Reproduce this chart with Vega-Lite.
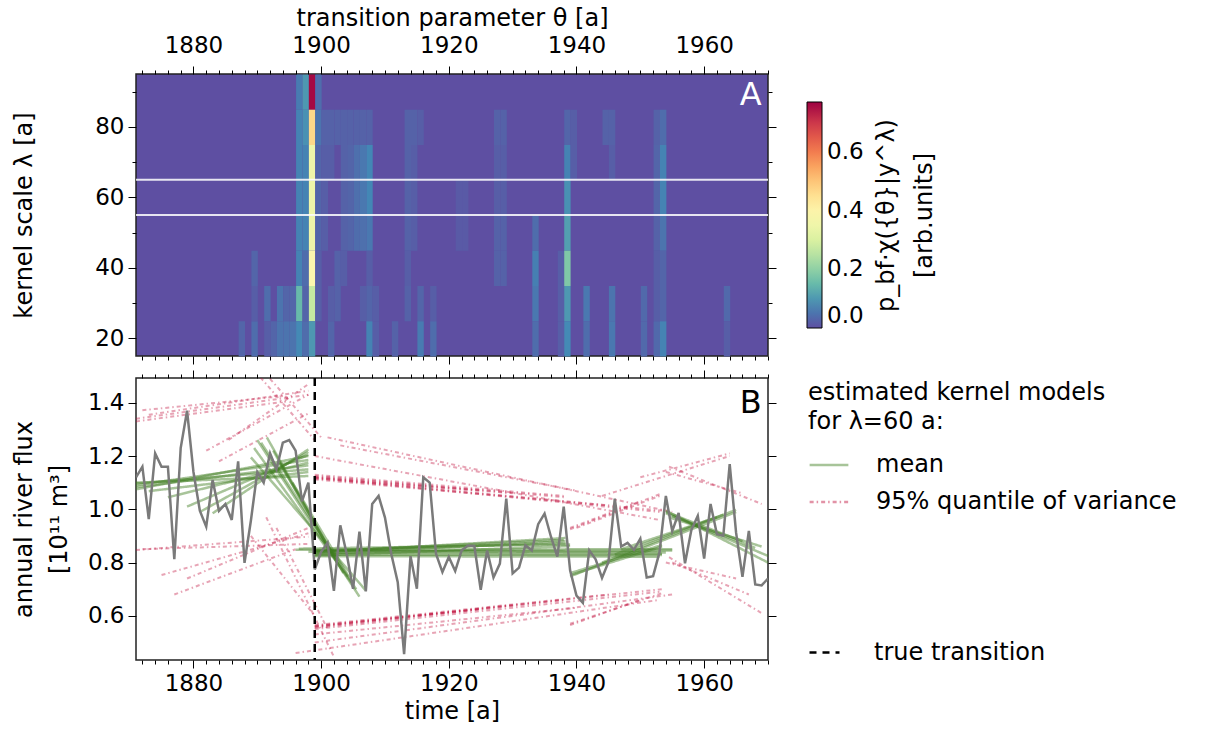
{
  "$schema": "https://vega.github.io/schema/vega-lite/v6.json",
  "background": "white",
  "padding": {"left": 11, "top": 5, "right": 5, "bottom": 2},
  "spacing": 2,
  "config": {
    "font": "DejaVu Sans",
    "view": {"stroke": "#222222", "strokeWidth": 1.5},
    "axis": {"labelFont": "DejaVu Sans", "labelFontSize": 23, "labelColor": "black", "titleFont": "DejaVu Sans", "titleFontSize": 24, "titleFontWeight": "normal", "titleColor": "black", "tickColor": "black", "tickWidth": 1, "domain": false, "grid": false, "labelPadding": 4},
    "legend": {"labelFont": "DejaVu Sans", "labelFontSize": 24, "labelColor": "black", "titleFont": "DejaVu Sans", "titleFontSize": 24, "titleFontWeight": "normal", "titleColor": "black", "labelLimit": 600, "titleLimit": 600}
  },
  "resolve": {"scale": {"color": "independent", "strokeDash": "independent", "strokeWidth": "independent"}, "legend": {"color": "independent", "strokeDash": "independent", "strokeWidth": "independent"}},
  "vconcat": [
    {
      "width": 632,
      "height": 282,
      "view": {"fill": "#5e4fa2", "stroke": "#222222", "strokeWidth": 1.5},
      "resolve": {"axis": {"x": "independent", "y": "independent"}},
      "layer": [
        {
          "data": {"values": [
            {"t": 1887, "l": 20, "p": 0.03},
            {"t": 1889, "l": 20, "p": 0.04}, {"t": 1889, "l": 30, "p": 0.02}, {"t": 1889, "l": 40, "p": 0.03},
            {"t": 1891, "l": 30, "p": 0.04}, {"t": 1891, "l": 20, "p": 0.02},
            {"t": 1892, "l": 20, "p": 0.03},
            {"t": 1893, "l": 30, "p": 0.05}, {"t": 1893, "l": 20, "p": 0.05},
            {"t": 1894, "l": 30, "p": 0.03}, {"t": 1894, "l": 20, "p": 0.05},
            {"t": 1895, "l": 30, "p": 0.03}, {"t": 1895, "l": 20, "p": 0.05},
            {"t": 1896, "l": 90, "p": 0.06}, {"t": 1896, "l": 80, "p": 0.07}, {"t": 1896, "l": 70, "p": 0.07}, {"t": 1896, "l": 60, "p": 0.07}, {"t": 1896, "l": 50, "p": 0.07}, {"t": 1896, "l": 40, "p": 0.07}, {"t": 1896, "l": 30, "p": 0.15}, {"t": 1896, "l": 20, "p": 0.08},
            {"t": 1897, "l": 90, "p": 0.1}, {"t": 1897, "l": 80, "p": 0.09}, {"t": 1897, "l": 70, "p": 0.07}, {"t": 1897, "l": 60, "p": 0.07}, {"t": 1897, "l": 50, "p": 0.07}, {"t": 1897, "l": 40, "p": 0.04}, {"t": 1897, "l": 30, "p": 0.03}, {"t": 1897, "l": 20, "p": 0.04},
            {"t": 1898, "l": 90, "p": 0.76}, {"t": 1898, "l": 80, "p": 0.47}, {"t": 1898, "l": 70, "p": 0.35}, {"t": 1898, "l": 60, "p": 0.35}, {"t": 1898, "l": 50, "p": 0.35}, {"t": 1898, "l": 40, "p": 0.39}, {"t": 1898, "l": 30, "p": 0.27}, {"t": 1898, "l": 20, "p": 0.1},
            {"t": 1899, "l": 90, "p": 0.04}, {"t": 1899, "l": 80, "p": 0.05}, {"t": 1899, "l": 70, "p": 0.03}, {"t": 1899, "l": 60, "p": 0.03}, {"t": 1899, "l": 50, "p": 0.03}, {"t": 1899, "l": 40, "p": 0.02}, {"t": 1899, "l": 30, "p": 0.02},
            {"t": 1900, "l": 80, "p": 0.025}, {"t": 1900, "l": 70, "p": 0.02}, {"t": 1900, "l": 60, "p": 0.02}, {"t": 1900, "l": 50, "p": 0.02},
            {"t": 1901, "l": 80, "p": 0.025}, {"t": 1901, "l": 70, "p": 0.02}, {"t": 1901, "l": 30, "p": 0.02}, {"t": 1901, "l": 20, "p": 0.03},
            {"t": 1902, "l": 80, "p": 0.025}, {"t": 1902, "l": 40, "p": 0.025}, {"t": 1902, "l": 30, "p": 0.025},
            {"t": 1903, "l": 80, "p": 0.025}, {"t": 1903, "l": 70, "p": 0.025}, {"t": 1903, "l": 60, "p": 0.025}, {"t": 1903, "l": 50, "p": 0.025}, {"t": 1903, "l": 40, "p": 0.02},
            {"t": 1904, "l": 80, "p": 0.025}, {"t": 1904, "l": 70, "p": 0.03}, {"t": 1904, "l": 60, "p": 0.03}, {"t": 1904, "l": 50, "p": 0.03},
            {"t": 1905, "l": 80, "p": 0.025}, {"t": 1905, "l": 70, "p": 0.045}, {"t": 1905, "l": 60, "p": 0.045}, {"t": 1905, "l": 50, "p": 0.04},
            {"t": 1906, "l": 80, "p": 0.025}, {"t": 1906, "l": 70, "p": 0.055}, {"t": 1906, "l": 60, "p": 0.055}, {"t": 1906, "l": 50, "p": 0.045}, {"t": 1906, "l": 30, "p": 0.02},
            {"t": 1907, "l": 80, "p": 0.025}, {"t": 1907, "l": 70, "p": 0.075}, {"t": 1907, "l": 60, "p": 0.075}, {"t": 1907, "l": 50, "p": 0.055}, {"t": 1907, "l": 40, "p": 0.02}, {"t": 1907, "l": 30, "p": 0.03}, {"t": 1907, "l": 20, "p": 0.07},
            {"t": 1908, "l": 30, "p": 0.02}, {"t": 1908, "l": 20, "p": 0.02},
            {"t": 1911, "l": 20, "p": 0.025},
            {"t": 1913, "l": 80, "p": 0.025}, {"t": 1913, "l": 70, "p": 0.025}, {"t": 1913, "l": 60, "p": 0.025}, {"t": 1913, "l": 50, "p": 0.025}, {"t": 1913, "l": 40, "p": 0.02}, {"t": 1913, "l": 30, "p": 0.025},
            {"t": 1914, "l": 80, "p": 0.025}, {"t": 1914, "l": 70, "p": 0.02}, {"t": 1914, "l": 60, "p": 0.02}, {"t": 1914, "l": 50, "p": 0.02},
            {"t": 1915, "l": 80, "p": 0.02}, {"t": 1915, "l": 30, "p": 0.03}, {"t": 1915, "l": 20, "p": 0.06},
            {"t": 1917, "l": 30, "p": 0.02}, {"t": 1917, "l": 20, "p": 0.04},
            {"t": 1921, "l": 60, "p": 0.015}, {"t": 1921, "l": 50, "p": 0.015},
            {"t": 1922, "l": 60, "p": 0.015}, {"t": 1922, "l": 50, "p": 0.015},
            {"t": 1927, "l": 80, "p": 0.025}, {"t": 1927, "l": 70, "p": 0.02}, {"t": 1927, "l": 60, "p": 0.02}, {"t": 1927, "l": 50, "p": 0.025}, {"t": 1927, "l": 40, "p": 0.025},
            {"t": 1928, "l": 80, "p": 0.025}, {"t": 1928, "l": 70, "p": 0.02}, {"t": 1928, "l": 60, "p": 0.02}, {"t": 1928, "l": 50, "p": 0.025}, {"t": 1928, "l": 40, "p": 0.025},
            {"t": 1933, "l": 50, "p": 0.04}, {"t": 1933, "l": 40, "p": 0.065}, {"t": 1933, "l": 30, "p": 0.055}, {"t": 1933, "l": 20, "p": 0.04},
            {"t": 1937, "l": 40, "p": 0.02}, {"t": 1937, "l": 30, "p": 0.02}, {"t": 1937, "l": 20, "p": 0.02},
            {"t": 1938, "l": 80, "p": 0.03}, {"t": 1938, "l": 70, "p": 0.07}, {"t": 1938, "l": 60, "p": 0.09}, {"t": 1938, "l": 50, "p": 0.11}, {"t": 1938, "l": 40, "p": 0.18}, {"t": 1938, "l": 30, "p": 0.1}, {"t": 1938, "l": 20, "p": 0.08},
            {"t": 1939, "l": 80, "p": 0.02}, {"t": 1939, "l": 70, "p": 0.02},
            {"t": 1941, "l": 30, "p": 0.055}, {"t": 1941, "l": 20, "p": 0.04},
            {"t": 1944, "l": 80, "p": 0.025},
            {"t": 1945, "l": 80, "p": 0.025}, {"t": 1945, "l": 70, "p": 0.02}, {"t": 1945, "l": 30, "p": 0.05}, {"t": 1945, "l": 20, "p": 0.055},
            {"t": 1950, "l": 30, "p": 0.035}, {"t": 1950, "l": 20, "p": 0.035},
            {"t": 1952, "l": 80, "p": 0.025}, {"t": 1952, "l": 70, "p": 0.03}, {"t": 1952, "l": 60, "p": 0.03}, {"t": 1952, "l": 50, "p": 0.025}, {"t": 1952, "l": 40, "p": 0.02}, {"t": 1952, "l": 30, "p": 0.02}, {"t": 1952, "l": 20, "p": 0.035},
            {"t": 1953, "l": 80, "p": 0.04}, {"t": 1953, "l": 70, "p": 0.07}, {"t": 1953, "l": 60, "p": 0.07}, {"t": 1953, "l": 50, "p": 0.05}, {"t": 1953, "l": 40, "p": 0.03}, {"t": 1953, "l": 30, "p": 0.03}, {"t": 1953, "l": 20, "p": 0.07},
            {"t": 1963, "l": 30, "p": 0.035}, {"t": 1963, "l": 20, "p": 0.02}
          ]},
          "mark": {"type": "rect", "binSpacing": 0},
          "encoding": {
            "x": {"field": "t", "type": "quantitative", "bin": {"step": 1, "extent": [1871, 1970], "nice": false},
                  "scale": {"domain": [1871, 1970], "nice": false, "zero": false},
                  "axis": {"orient": "top", "values": [1872,1874,1876,1878,1880,1882,1884,1886,1888,1890,1892,1894,1896,1898,1900,1902,1904,1906,1908,1910,1912,1914,1916,1918,1920,1922,1924,1926,1928,1930,1932,1934,1936,1938,1940,1942,1944,1946,1948,1950,1952,1954,1956,1958,1960,1962,1964,1966,1968,1970],
                           "labelExpr": "datum.value % 20 === 0 ? format(datum.value, 'd') : ''",
                           "tickSize": {"condition": {"test": "datum.value % 20 === 0", "value": 8}, "value": 4},
                           "labelFlush": false, "labelOverlap": false, "labelPadding": 8.5,
                           "title": "transition parameter θ [a]", "titleY": -49, "titleBaseline": "alphabetic"}},
            "y": {"field": "l", "type": "quantitative", "bin": {"step": 10, "extent": [15, 95], "nice": false},
                  "scale": {"domain": [15, 95], "nice": false, "zero": false},
                  "axis": {"orient": "left", "values": [20, 30, 40, 50, 60, 70, 80, 90],
                           "labelExpr": "datum.value % 20 === 0 ? format(datum.value, 'd') : ''",
                           "tickSize": {"condition": {"test": "datum.value % 20 === 0", "value": 8}, "value": 4},
                           "labelFlush": false, "labelOverlap": false,
                           "title": "kernel scale λ [a]", "titleAngle": 270, "titleX": -124, "titleY": 141, "titleAlign": "center", "titleBaseline": "top"}},
            "color": {"field": "p", "type": "quantitative",
                      "scale": {"scheme": "spectral", "reverse": true, "domain": [0, 0.77]},
                      "legend": {"orient": "none", "legendX": 671, "legendY": 28, "direction": "vertical", "gradientLength": 226, "gradientThickness": 15, "values": [0, 0.2, 0.4, 0.6], "format": ".1f", "title": null, "labelFontSize": 23, "labelOffset": 5, "gradientStrokeColor": "black", "gradientStrokeWidth": 1}}
          }
        },
        {
          "data": {"values": [{"l": 55, "t0": 1871, "t1": 1970}, {"l": 65, "t0": 1871, "t1": 1970}]},
          "mark": {"type": "rule", "color": "white", "strokeWidth": 2, "opacity": 0.85},
          "encoding": {
            "x": {"field": "t0", "type": "quantitative",
                  "axis": {"orient": "bottom", "values": [1872,1874,1876,1878,1880,1882,1884,1886,1888,1890,1892,1894,1896,1898,1900,1902,1904,1906,1908,1910,1912,1914,1916,1918,1920,1922,1924,1926,1928,1930,1932,1934,1936,1938,1940,1942,1944,1946,1948,1950,1952,1954,1956,1958,1960,1962,1964,1966,1968,1970],
                           "labels": false, "title": null,
                           "tickSize": {"condition": {"test": "datum.value % 20 === 0", "value": 8}, "value": 4}}},
            "x2": {"field": "t1"},
            "y": {"field": "l", "type": "quantitative",
                  "axis": {"orient": "right", "values": [20, 30, 40, 50, 60, 70, 80, 90], "labels": false,
                           "tickSize": {"condition": {"test": "datum.value % 20 === 0", "value": 8}, "value": 4},
                           "title": ["p_bf·χ({θ}|y^λ)", "[arb.units]"], "titleAngle": 270, "titleX": 106, "titleY": 141, "titleAlign": "center", "titleBaseline": "top", "titleLineHeight": 38}}
          }
        },
        {
          "data": {"values": [{"lab": "A", "t": 1969, "l": 89}]},
          "mark": {"type": "text", "align": "right", "baseline": "middle", "fontSize": 32, "color": "white", "font": "DejaVu Sans"},
          "encoding": {
            "x": {"field": "t", "type": "quantitative", "axis": null},
            "y": {"field": "l", "type": "quantitative", "axis": null},
            "text": {"field": "lab"}
          }
        }
      ]
    },
    {
      "width": 632,
      "height": 282,
      "resolve": {"axis": {"x": "independent", "y": "independent"}},
      "layer": [
        {
          "data": {"values": [
            {"g": "R1", "kind": "95% quantile of variance", "t": 1871, "v": 1.34}, {"g": "R1", "kind": "95% quantile of variance", "t": 1898, "v": 1.43},
            {"g": "R2", "kind": "95% quantile of variance", "t": 1871, "v": 1.33}, {"g": "R2", "kind": "95% quantile of variance", "t": 1894.5, "v": 1.405},
            {"g": "R3", "kind": "95% quantile of variance", "t": 1872, "v": 1.372}, {"g": "R3", "kind": "95% quantile of variance", "t": 1894, "v": 1.425},
            {"g": "R4", "kind": "95% quantile of variance", "t": 1873, "v": 1.355}, {"g": "R4", "kind": "95% quantile of variance", "t": 1898, "v": 1.445},
            {"g": "R5", "kind": "95% quantile of variance", "t": 1890.5, "v": 1.495}, {"g": "R5", "kind": "95% quantile of variance", "t": 1899, "v": 1.26},
            {"g": "R6", "kind": "95% quantile of variance", "t": 1892, "v": 1.49}, {"g": "R6", "kind": "95% quantile of variance", "t": 1900, "v": 1.27},
            {"g": "R7", "kind": "95% quantile of variance", "t": 1885.5, "v": 1.26}, {"g": "R7", "kind": "95% quantile of variance", "t": 1898, "v": 1.47},
            {"g": "R8", "kind": "95% quantile of variance", "t": 1882, "v": 1.22}, {"g": "R8", "kind": "95% quantile of variance", "t": 1898, "v": 1.43},
            {"g": "R9", "kind": "95% quantile of variance", "t": 1884, "v": 1.18}, {"g": "R9", "kind": "95% quantile of variance", "t": 1898, "v": 1.36},
            {"g": "R10", "kind": "95% quantile of variance", "t": 1871, "v": 0.847}, {"g": "R10", "kind": "95% quantile of variance", "t": 1898, "v": 0.897},
            {"g": "R11", "kind": "95% quantile of variance", "t": 1875, "v": 0.753}, {"g": "R11", "kind": "95% quantile of variance", "t": 1898, "v": 0.91},
            {"g": "R12", "kind": "95% quantile of variance", "t": 1877, "v": 0.68}, {"g": "R12", "kind": "95% quantile of variance", "t": 1896, "v": 0.85},
            {"g": "R13", "kind": "95% quantile of variance", "t": 1872, "v": 0.85}, {"g": "R13", "kind": "95% quantile of variance", "t": 1898, "v": 0.87},
            {"g": "R14", "kind": "95% quantile of variance", "t": 1879, "v": 0.74}, {"g": "R14", "kind": "95% quantile of variance", "t": 1898, "v": 0.93},
            {"g": "R15", "kind": "95% quantile of variance", "t": 1891.4, "v": 0.97}, {"g": "R15", "kind": "95% quantile of variance", "t": 1902, "v": 0.446},
            {"g": "R16", "kind": "95% quantile of variance", "t": 1893, "v": 0.93}, {"g": "R16", "kind": "95% quantile of variance", "t": 1901, "v": 0.55},
            {"g": "R17", "kind": "95% quantile of variance", "t": 1889, "v": 0.9}, {"g": "R17", "kind": "95% quantile of variance", "t": 1899, "v": 0.6},
            {"g": "R18", "kind": "95% quantile of variance", "t": 1899, "v": 1.12}, {"g": "R18", "kind": "95% quantile of variance", "t": 1953.4, "v": 0.995},
            {"g": "R19", "kind": "95% quantile of variance", "t": 1899, "v": 1.125}, {"g": "R19", "kind": "95% quantile of variance", "t": 1938.3, "v": 1.045},
            {"g": "R20", "kind": "95% quantile of variance", "t": 1899, "v": 1.112}, {"g": "R20", "kind": "95% quantile of variance", "t": 1945, "v": 1.015},
            {"g": "R21", "kind": "95% quantile of variance", "t": 1899, "v": 1.118}, {"g": "R21", "kind": "95% quantile of variance", "t": 1953, "v": 0.99},
            {"g": "R22", "kind": "95% quantile of variance", "t": 1899, "v": 1.13}, {"g": "R22", "kind": "95% quantile of variance", "t": 1938, "v": 1.05},
            {"g": "R23", "kind": "95% quantile of variance", "t": 1901, "v": 1.27}, {"g": "R23", "kind": "95% quantile of variance", "t": 1955, "v": 0.99},
            {"g": "R24", "kind": "95% quantile of variance", "t": 1899, "v": 1.2}, {"g": "R24", "kind": "95% quantile of variance", "t": 1953, "v": 0.96},
            {"g": "R25", "kind": "95% quantile of variance", "t": 1903, "v": 1.24}, {"g": "R25", "kind": "95% quantile of variance", "t": 1940, "v": 1.07},
            {"g": "R26", "kind": "95% quantile of variance", "t": 1899, "v": 0.56}, {"g": "R26", "kind": "95% quantile of variance", "t": 1953.4, "v": 0.7},
            {"g": "R27", "kind": "95% quantile of variance", "t": 1899, "v": 0.555}, {"g": "R27", "kind": "95% quantile of variance", "t": 1938.3, "v": 0.66},
            {"g": "R28", "kind": "95% quantile of variance", "t": 1899, "v": 0.565}, {"g": "R28", "kind": "95% quantile of variance", "t": 1945, "v": 0.68},
            {"g": "R29", "kind": "95% quantile of variance", "t": 1899, "v": 0.55}, {"g": "R29", "kind": "95% quantile of variance", "t": 1953, "v": 0.69},
            {"g": "R30", "kind": "95% quantile of variance", "t": 1896, "v": 0.46}, {"g": "R30", "kind": "95% quantile of variance", "t": 1953, "v": 0.66},
            {"g": "R31", "kind": "95% quantile of variance", "t": 1899, "v": 0.5}, {"g": "R31", "kind": "95% quantile of variance", "t": 1955, "v": 0.68},
            {"g": "R32", "kind": "95% quantile of variance", "t": 1899, "v": 0.53}, {"g": "R32", "kind": "95% quantile of variance", "t": 1940, "v": 0.63},
            {"g": "R33", "kind": "95% quantile of variance", "t": 1939, "v": 0.925}, {"g": "R33", "kind": "95% quantile of variance", "t": 1953.4, "v": 1.06},
            {"g": "R34", "kind": "95% quantile of variance", "t": 1939, "v": 0.57}, {"g": "R34", "kind": "95% quantile of variance", "t": 1953.4, "v": 0.685},
            {"g": "R35", "kind": "95% quantile of variance", "t": 1940, "v": 0.93}, {"g": "R35", "kind": "95% quantile of variance", "t": 1953, "v": 1.05},
            {"g": "R36", "kind": "95% quantile of variance", "t": 1954.5, "v": 1.16}, {"g": "R36", "kind": "95% quantile of variance", "t": 1969, "v": 1.02},
            {"g": "R37", "kind": "95% quantile of variance", "t": 1954.5, "v": 0.82}, {"g": "R37", "kind": "95% quantile of variance", "t": 1969, "v": 0.61},
            {"g": "R38", "kind": "95% quantile of variance", "t": 1954, "v": 1.14}, {"g": "R38", "kind": "95% quantile of variance", "t": 1966, "v": 1.06},
            {"g": "R39", "kind": "95% quantile of variance", "t": 1955, "v": 0.8}, {"g": "R39", "kind": "95% quantile of variance", "t": 1967, "v": 0.68},
            {"g": "R40", "kind": "95% quantile of variance", "t": 1944, "v": 1.05}, {"g": "R40", "kind": "95% quantile of variance", "t": 1964, "v": 1.2},
            {"g": "R41", "kind": "95% quantile of variance", "t": 1950, "v": 1.12}, {"g": "R41", "kind": "95% quantile of variance", "t": 1964, "v": 1.21},
            {"g": "R42", "kind": "95% quantile of variance", "t": 1954, "v": 0.8}, {"g": "R42", "kind": "95% quantile of variance", "t": 1965, "v": 0.74},
            {"g": "R43", "kind": "95% quantile of variance", "t": 1899, "v": 1.122}, {"g": "R43", "kind": "95% quantile of variance", "t": 1930, "v": 1.06},
            {"g": "R44", "kind": "95% quantile of variance", "t": 1899, "v": 1.116}, {"g": "R44", "kind": "95% quantile of variance", "t": 1925, "v": 1.07},
            {"g": "R45", "kind": "95% quantile of variance", "t": 1899, "v": 0.558}, {"g": "R45", "kind": "95% quantile of variance", "t": 1930, "v": 0.64},
            {"g": "R46", "kind": "95% quantile of variance", "t": 1899, "v": 0.562}, {"g": "R46", "kind": "95% quantile of variance", "t": 1925, "v": 0.625},
            {"g": "R47", "kind": "95% quantile of variance", "t": 1939, "v": 0.93}, {"g": "R47", "kind": "95% quantile of variance", "t": 1950, "v": 1.03},
            {"g": "R48", "kind": "95% quantile of variance", "t": 1939, "v": 0.565}, {"g": "R48", "kind": "95% quantile of variance", "t": 1950, "v": 0.66}
          ]},
          "mark": {"type": "line", "strokeWidth": 2, "opacity": 0.38, "clip": true},
          "encoding": {
            "x": {"field": "t", "type": "quantitative",
                  "scale": {"domain": [1871, 1970], "nice": false, "zero": false},
                  "axis": {"orient": "bottom", "values": [1872,1874,1876,1878,1880,1882,1884,1886,1888,1890,1892,1894,1896,1898,1900,1902,1904,1906,1908,1910,1912,1914,1916,1918,1920,1922,1924,1926,1928,1930,1932,1934,1936,1938,1940,1942,1944,1946,1948,1950,1952,1954,1956,1958,1960,1962,1964,1966,1968,1970],
                           "labelExpr": "datum.value % 20 === 0 ? format(datum.value, 'd') : ''",
                           "tickSize": {"condition": {"test": "datum.value % 20 === 0", "value": 8}, "value": 4},
                           "labelFlush": false, "labelOverlap": false,
                           "title": "time [a]", "titlePadding": 4}},
            "y": {"field": "v", "type": "quantitative",
                  "scale": {"domain": [0.434, 1.493], "nice": false, "zero": false},
                  "axis": {"orient": "left", "values": [0.6, 0.8, 1.0, 1.2, 1.4], "format": ".1f", "tickSize": 8,
                           "labelFlush": false, "labelOverlap": false,
                           "title": ["annual river flux", "[10¹¹ m³]"], "titleAngle": 270, "titleX": -124, "titleY": 141, "titleAlign": "center", "titleBaseline": "top", "titleLineHeight": 35}},
            "detail": {"field": "g"},
            "color": {"field": "kind", "type": "nominal",
                      "scale": {"domain": ["mean", "95% quantile of variance"], "range": ["#3d7d1f", "#c0103c"]},
                      "legend": {"orient": "none", "legendX": 672, "legendY": 3, "title": ["estimated kernel models", "for λ=60 a:"], "titleLineHeight": 29, "titlePadding": 10, "symbolType": "stroke", "symbolSize": 1500, "symbolStrokeWidth": 2.5, "symbolOpacity": 0.5, "labelOffset": 26, "rowPadding": 4}},
            "strokeDash": {"field": "kind", "type": "nominal",
                      "scale": {"domain": ["mean", "95% quantile of variance"], "range": [[1, 0], [4, 3, 1.5, 3]]},
                      "legend": {"orient": "none", "legendX": 672, "legendY": 3, "title": ["estimated kernel models", "for λ=60 a:"], "titleLineHeight": 29, "titlePadding": 10, "symbolType": "stroke", "symbolSize": 1500, "symbolStrokeWidth": 2.5, "symbolOpacity": 0.5, "labelOffset": 26, "rowPadding": 4}}
          }
        },
        {
          "data": {"values": [
            {"g": "A1", "kind": "mean", "t": 1871, "v": 1.09}, {"g": "A1", "kind": "mean", "t": 1898, "v": 1.185},
            {"g": "A2", "kind": "mean", "t": 1871, "v": 1.083}, {"g": "A2", "kind": "mean", "t": 1898, "v": 1.165},
            {"g": "A3", "kind": "mean", "t": 1871, "v": 1.097}, {"g": "A3", "kind": "mean", "t": 1898, "v": 1.15},
            {"g": "A4", "kind": "mean", "t": 1871, "v": 1.075}, {"g": "A4", "kind": "mean", "t": 1898, "v": 1.2},
            {"g": "A5", "kind": "mean", "t": 1873, "v": 1.068}, {"g": "A5", "kind": "mean", "t": 1898, "v": 1.14},
            {"g": "A6", "kind": "mean", "t": 1876, "v": 1.045}, {"g": "A6", "kind": "mean", "t": 1898, "v": 1.175},
            {"g": "A7", "kind": "mean", "t": 1879, "v": 1.01}, {"g": "A7", "kind": "mean", "t": 1898, "v": 1.205},
            {"g": "A8", "kind": "mean", "t": 1881, "v": 0.99}, {"g": "A8", "kind": "mean", "t": 1898, "v": 1.215},
            {"g": "A9", "kind": "mean", "t": 1883, "v": 0.985}, {"g": "A9", "kind": "mean", "t": 1898, "v": 1.225},
            {"g": "A10", "kind": "mean", "t": 1871, "v": 1.1}, {"g": "A10", "kind": "mean", "t": 1898, "v": 1.125},
            {"g": "B1", "kind": "mean", "t": 1889, "v": 1.195}, {"g": "B1", "kind": "mean", "t": 1907, "v": 0.695},
            {"g": "B2", "kind": "mean", "t": 1890, "v": 1.26}, {"g": "B2", "kind": "mean", "t": 1906, "v": 0.672},
            {"g": "B3", "kind": "mean", "t": 1890.6, "v": 1.25}, {"g": "B3", "kind": "mean", "t": 1904.2, "v": 0.747},
            {"g": "B4", "kind": "mean", "t": 1891.5, "v": 1.27}, {"g": "B4", "kind": "mean", "t": 1902.5, "v": 0.8},
            {"g": "B5", "kind": "mean", "t": 1892.5, "v": 1.22}, {"g": "B5", "kind": "mean", "t": 1901, "v": 0.86},
            {"g": "B6", "kind": "mean", "t": 1889.5, "v": 1.23}, {"g": "B6", "kind": "mean", "t": 1905.5, "v": 0.7},
            {"g": "B7", "kind": "mean", "t": 1893.5, "v": 1.175}, {"g": "B7", "kind": "mean", "t": 1903.5, "v": 0.76},
            {"g": "B8", "kind": "mean", "t": 1895.5, "v": 1.1}, {"g": "B8", "kind": "mean", "t": 1905, "v": 0.72},
            {"g": "C1", "kind": "mean", "t": 1899, "v": 0.838}, {"g": "C1", "kind": "mean", "t": 1938.3, "v": 0.892},
            {"g": "C2", "kind": "mean", "t": 1899, "v": 0.832}, {"g": "C2", "kind": "mean", "t": 1938.3, "v": 0.88},
            {"g": "C3", "kind": "mean", "t": 1899, "v": 0.845}, {"g": "C3", "kind": "mean", "t": 1938.3, "v": 0.872},
            {"g": "C4", "kind": "mean", "t": 1896.5, "v": 0.852}, {"g": "C4", "kind": "mean", "t": 1939, "v": 0.868},
            {"g": "C5", "kind": "mean", "t": 1899, "v": 0.826}, {"g": "C5", "kind": "mean", "t": 1939, "v": 0.862},
            {"g": "C6", "kind": "mean", "t": 1898, "v": 0.84}, {"g": "C6", "kind": "mean", "t": 1938, "v": 0.885},
            {"g": "D1", "kind": "mean", "t": 1899, "v": 0.83}, {"g": "D1", "kind": "mean", "t": 1953.4, "v": 0.828},
            {"g": "D2", "kind": "mean", "t": 1899, "v": 0.836}, {"g": "D2", "kind": "mean", "t": 1953.4, "v": 0.833},
            {"g": "D3", "kind": "mean", "t": 1899, "v": 0.842}, {"g": "D3", "kind": "mean", "t": 1955, "v": 0.845},
            {"g": "D4", "kind": "mean", "t": 1896, "v": 0.848}, {"g": "D4", "kind": "mean", "t": 1955, "v": 0.85},
            {"g": "D5", "kind": "mean", "t": 1899, "v": 0.824}, {"g": "D5", "kind": "mean", "t": 1953, "v": 0.822},
            {"g": "D6", "kind": "mean", "t": 1899, "v": 0.845}, {"g": "D6", "kind": "mean", "t": 1954, "v": 0.838},
            {"g": "E1", "kind": "mean", "t": 1939, "v": 0.753}, {"g": "E1", "kind": "mean", "t": 1953.4, "v": 0.86},
            {"g": "E2", "kind": "mean", "t": 1939, "v": 0.76}, {"g": "E2", "kind": "mean", "t": 1953.4, "v": 0.866},
            {"g": "E3", "kind": "mean", "t": 1939, "v": 0.748}, {"g": "E3", "kind": "mean", "t": 1965, "v": 0.99},
            {"g": "E4", "kind": "mean", "t": 1944, "v": 0.8}, {"g": "E4", "kind": "mean", "t": 1965, "v": 0.998},
            {"g": "E5", "kind": "mean", "t": 1946, "v": 0.83}, {"g": "E5", "kind": "mean", "t": 1963, "v": 0.98},
            {"g": "E6", "kind": "mean", "t": 1947, "v": 0.85}, {"g": "E6", "kind": "mean", "t": 1962, "v": 0.97},
            {"g": "F1", "kind": "mean", "t": 1954, "v": 0.995}, {"g": "F1", "kind": "mean", "t": 1970, "v": 0.8},
            {"g": "F2", "kind": "mean", "t": 1954, "v": 0.985}, {"g": "F2", "kind": "mean", "t": 1968, "v": 0.855},
            {"g": "F3", "kind": "mean", "t": 1955, "v": 0.975}, {"g": "F3", "kind": "mean", "t": 1970, "v": 0.825},
            {"g": "F4", "kind": "mean", "t": 1954, "v": 0.99}, {"g": "F4", "kind": "mean", "t": 1966, "v": 0.88},
            {"g": "F5", "kind": "mean", "t": 1954.5, "v": 0.97}, {"g": "F5", "kind": "mean", "t": 1969, "v": 0.86}
          ]},
          "mark": {"type": "line", "strokeWidth": 2.5, "opacity": 0.45, "clip": true},
          "encoding": {
            "x": {"field": "t", "type": "quantitative",
                  "axis": {"orient": "top", "values": [1872,1874,1876,1878,1880,1882,1884,1886,1888,1890,1892,1894,1896,1898,1900,1902,1904,1906,1908,1910,1912,1914,1916,1918,1920,1922,1924,1926,1928,1930,1932,1934,1936,1938,1940,1942,1944,1946,1948,1950,1952,1954,1956,1958,1960,1962,1964,1966,1968,1970],
                           "labels": false, "title": null,
                           "tickSize": {"condition": {"test": "datum.value % 20 === 0", "value": 8}, "value": 4}}},
            "y": {"field": "v", "type": "quantitative",
                  "axis": {"orient": "right", "values": [0.6, 0.8, 1.0, 1.2, 1.4], "labels": false, "title": null, "tickSize": 8}},
            "detail": {"field": "g"},
            "color": {"field": "kind", "type": "nominal"},
            "strokeDash": {"field": "kind", "type": "nominal"}
          }
        },
        {
          "data": {"values": [
            {"t": 1871, "v": 1.12}, {"t": 1872, "v": 1.16}, {"t": 1873, "v": 0.963}, {"t": 1874, "v": 1.21}, {"t": 1875, "v": 1.16},
            {"t": 1876, "v": 1.16}, {"t": 1877, "v": 0.813}, {"t": 1878, "v": 1.23}, {"t": 1879, "v": 1.37}, {"t": 1880, "v": 1.14},
            {"t": 1881, "v": 0.995}, {"t": 1882, "v": 0.935}, {"t": 1883, "v": 1.11}, {"t": 1884, "v": 0.994}, {"t": 1885, "v": 1.02},
            {"t": 1886, "v": 0.96}, {"t": 1887, "v": 1.18}, {"t": 1888, "v": 0.799}, {"t": 1889, "v": 0.958}, {"t": 1890, "v": 1.14},
            {"t": 1891, "v": 1.1}, {"t": 1892, "v": 1.21}, {"t": 1893, "v": 1.15}, {"t": 1894, "v": 1.25}, {"t": 1895, "v": 1.26},
            {"t": 1896, "v": 1.22}, {"t": 1897, "v": 1.03}, {"t": 1898, "v": 1.1}, {"t": 1899, "v": 0.774}, {"t": 1900, "v": 0.84},
            {"t": 1901, "v": 0.874}, {"t": 1902, "v": 0.694}, {"t": 1903, "v": 0.94}, {"t": 1904, "v": 0.833}, {"t": 1905, "v": 0.701},
            {"t": 1906, "v": 0.916}, {"t": 1907, "v": 0.692}, {"t": 1908, "v": 1.02}, {"t": 1909, "v": 1.05}, {"t": 1910, "v": 0.969},
            {"t": 1911, "v": 0.831}, {"t": 1912, "v": 0.726}, {"t": 1913, "v": 0.456}, {"t": 1914, "v": 0.824}, {"t": 1915, "v": 0.702},
            {"t": 1916, "v": 1.12}, {"t": 1917, "v": 1.1}, {"t": 1918, "v": 0.832}, {"t": 1919, "v": 0.764}, {"t": 1920, "v": 0.821},
            {"t": 1921, "v": 0.768}, {"t": 1922, "v": 0.845}, {"t": 1923, "v": 0.864}, {"t": 1924, "v": 0.862}, {"t": 1925, "v": 0.698},
            {"t": 1926, "v": 0.845}, {"t": 1927, "v": 0.744}, {"t": 1928, "v": 0.796}, {"t": 1929, "v": 1.04}, {"t": 1930, "v": 0.759},
            {"t": 1931, "v": 0.781}, {"t": 1932, "v": 0.865}, {"t": 1933, "v": 0.845}, {"t": 1934, "v": 0.944}, {"t": 1935, "v": 0.984},
            {"t": 1936, "v": 0.897}, {"t": 1937, "v": 0.822}, {"t": 1938, "v": 1.01}, {"t": 1939, "v": 0.771}, {"t": 1940, "v": 0.676},
            {"t": 1941, "v": 0.649}, {"t": 1942, "v": 0.846}, {"t": 1943, "v": 0.812}, {"t": 1944, "v": 0.742}, {"t": 1945, "v": 0.801},
            {"t": 1946, "v": 1.04}, {"t": 1947, "v": 0.86}, {"t": 1948, "v": 0.874}, {"t": 1949, "v": 0.848}, {"t": 1950, "v": 0.89},
            {"t": 1951, "v": 0.744}, {"t": 1952, "v": 0.749}, {"t": 1953, "v": 0.838}, {"t": 1954, "v": 1.05}, {"t": 1955, "v": 0.918},
            {"t": 1956, "v": 0.986}, {"t": 1957, "v": 0.797}, {"t": 1958, "v": 0.923}, {"t": 1959, "v": 0.975}, {"t": 1960, "v": 0.815},
            {"t": 1961, "v": 1.02}, {"t": 1962, "v": 0.906}, {"t": 1963, "v": 0.901}, {"t": 1964, "v": 1.17}, {"t": 1965, "v": 0.912},
            {"t": 1966, "v": 0.746}, {"t": 1967, "v": 0.919}, {"t": 1968, "v": 0.718}, {"t": 1969, "v": 0.714}, {"t": 1970, "v": 0.74}
          ]},
          "mark": {"type": "line", "color": "#7a7a7a", "strokeWidth": 2.5, "clip": true},
          "encoding": {
            "x": {"field": "t", "type": "quantitative", "axis": null},
            "y": {"field": "v", "type": "quantitative", "axis": null}
          }
        },
        {
          "data": {"values": [{"tt": "true transition", "t": 1899}]},
          "mark": {"type": "rule", "color": "black", "strokeDash": [8, 6]},
          "encoding": {
            "x": {"field": "t", "type": "quantitative", "axis": null},
            "strokeWidth": {"field": "tt", "type": "nominal",
                            "scale": {"domain": ["true transition"], "range": [2.5, 2.5]},
                            "legend": {"orient": "none", "legendX": 672, "legendY": 258, "title": null, "symbolType": "stroke", "symbolSize": 900, "symbolStrokeColor": "black", "symbolDash": [7, 6], "labelOffset": 33}}
          }
        },
        {
          "data": {"values": [{"lab": "B", "t": 1969, "v": 1.4}]},
          "mark": {"type": "text", "align": "right", "baseline": "middle", "fontSize": 32, "color": "black", "font": "DejaVu Sans"},
          "encoding": {
            "x": {"field": "t", "type": "quantitative", "axis": null},
            "y": {"field": "v", "type": "quantitative", "axis": null},
            "text": {"field": "lab"}
          }
        }
      ]
    }
  ]
}
